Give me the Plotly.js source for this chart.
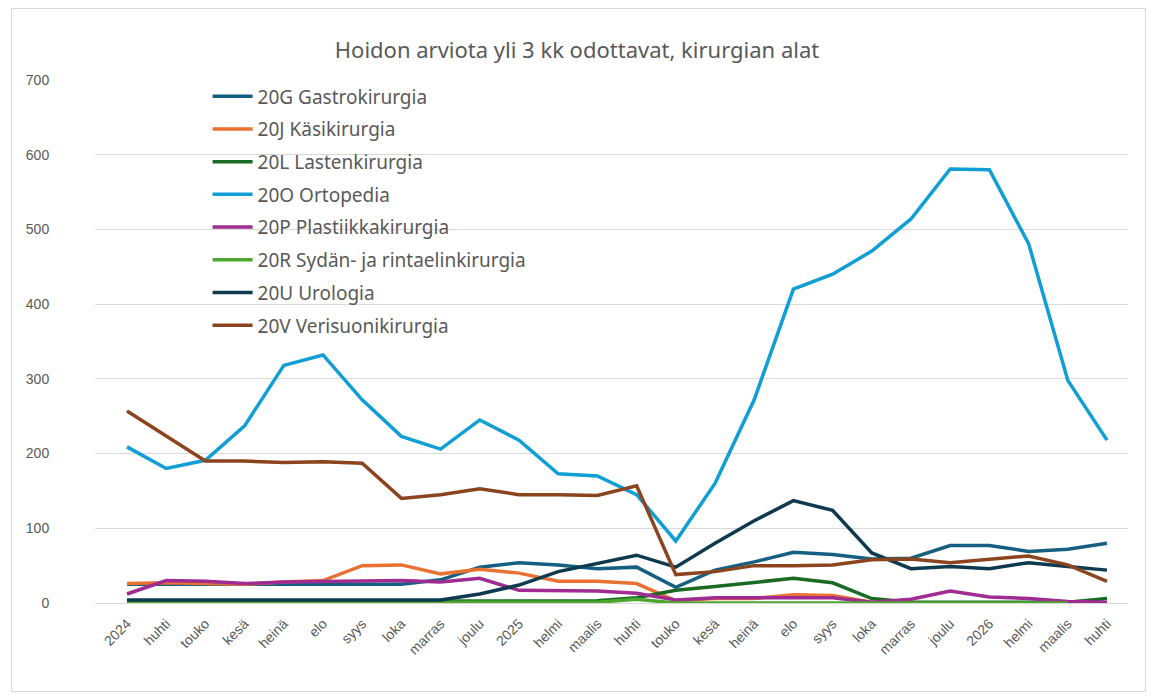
<!DOCTYPE html>
<html>
<head>
<meta charset="utf-8">
<script src="https://cdn.plot.ly/plotly-3.0.1.min.js"></script>
<style>
  html, body { margin: 0; padding: 0; background: #ffffff; }
  #chart { width: 1154px; height: 698px; }
  #frame { position: absolute; left: 11px; top: 8px; width: 1133px; height: 682px;
           border: 1px solid #d9d9d9; pointer-events: none; }
</style>
</head>
<body>
<div id="chart"></div>
<div id="frame"></div>
<script>
const tickLabels = ["2024","huhti","touko","kesä","heinä","elo","syys","loka","marras","joulu",
  "2025","helmi","maalis","huhti","touko","kesä","heinä","elo","syys","loka","marras","joulu",
  "2026","helmi","maalis","huhti"];

const seriesNames = ["20G Gastrokirurgia","20J Käsikirurgia","20L Lastenkirurgia","20O Ortopedia",
  "20P Plastiikkakirurgia","20R Sydän- ja rintaelinkirurgia","20U Urologia","20V Verisuonikirurgia"];

const gastro     = [25,25,25,25,25,26,25,25,31,48,54,51,46,48,21,44,55,68,65,59,60,77,77,69,72,80];
const kasi       = [26,27,26,25,28,30,50,51,39,45,40,29,29,26,3,6,6,11,10,1,0,0,0,0,0,0];
const lasten     = [2,2,2,2,2,2,2,2,2,2,2,2,3,7,17,22,28,33,27,6,1,1,1,1,1,6];
const ortopedia  = [209,180,191,237,318,332,272,223,206,245,218,173,170,145,83,160,272,420,440,471,514,581,580,481,298,218];
const plastiikka = [12,30,29,26,28,29,30,30,28,33,17,17,16,13,4,7,7,7,7,1,5,16,8,6,2,1];
const sydan      = [1,1,1,1,1,1,1,1,1,1,1,1,1,5,0,0,0,0,0,0,0,0,0,0,0,null];
const urologia   = [4,4,4,4,4,4,4,4,4,12,24,42,53,64,48,80,110,137,124,67,46,49,46,54,49,44];
const verisuoni  = [257,223,190,190,188,189,187,140,145,153,145,145,144,157,38,42,50,50,51,58,59,54,59,63,51,29];

const seriesValues = [gastro, kasi, lasten, ortopedia, plastiikka, sydan, urologia, verisuoni];
const colors = ["#156082","#E97132","#196B24","#0F9ED5","#A02B93","#4EA72E","#0D3A4E","#8C441E"];

const xIdx = tickLabels.map((_, i) => i);

const traces = seriesValues.map((vals, k) => ({
  type: "scatter",
  mode: "lines",
  x: xIdx,
  y: vals,
  name: seriesNames[k],
  legendgroup: "g" + k,
  line: { color: colors[k], width: 3.5 },
  connectgaps: false,
  hoverinfo: "skip"
}));

const layout = {
  width: 1154,
  height: 698,
  paper_bgcolor: "#ffffff",
  plot_bgcolor: "#ffffff",
  margin: { l: 95, r: 26, t: 80, b: 95 },
  title: {
    text: "Hoidon arviota yli 3 kk odottavat, kirurgian alat",
    font: { family: "Noto Sans, Open Sans, sans-serif", size: 22, color: "#595959" },
    x: 0.5, xanchor: "center", y: 0.928, yanchor: "middle"
  },
  showlegend: true,
  legend: {
    x: 0.109, xanchor: "left", y: 1.005, yanchor: "top",
    bgcolor: "rgba(0,0,0,0)",
    font: { family: "Noto Sans, Open Sans, sans-serif", size: 19, color: "#595959" },
    tracegroupgap: 5,
    itemwidth: 40
  },
  xaxis: {
    range: [-0.816, 25.536],
    tickmode: "array",
    tickvals: xIdx,
    ticktext: tickLabels,
    tickangle: -45,
    showgrid: false,
    zeroline: false,
    showline: false,
    ticks: "outside",
    ticklen: 6,
    tickcolor: "rgba(0,0,0,0)",
    tickfont: { family: "Liberation Sans, Arial, sans-serif", size: 14, color: "#595959" },
    fixedrange: true
  },
  yaxis: {
    range: [0, 700],
    tickmode: "array",
    tickvals: [0,100,200,300,400,500,600,700],
    showgrid: true,
    gridcolor: "#d9d9d9",
    gridwidth: 1,
    zeroline: true,
    zerolinecolor: "#d9d9d9",
    zerolinewidth: 1,
    showline: false,
    ticks: "outside",
    ticklen: 42,
    tickcolor: "rgba(0,0,0,0)",
    tickfont: { family: "Liberation Sans, Arial, sans-serif", size: 14, color: "#595959" },
    fixedrange: true
  }
};

Plotly.newPlot("chart", traces, layout, { displayModeBar: false, staticPlot: true });
</script>
</body>
</html>
